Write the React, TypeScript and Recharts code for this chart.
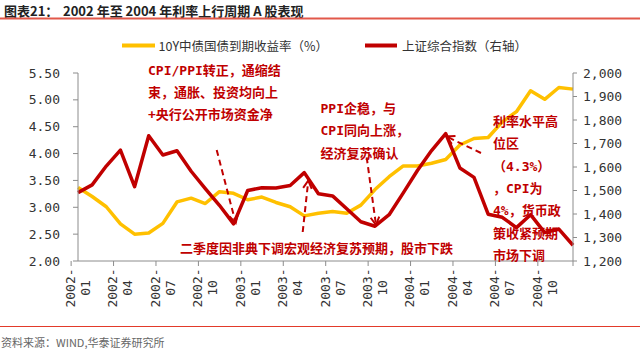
import React from 'react';
import { LineChart, Line, XAxis, YAxis } from 'recharts';

// 2002-01 .. 2004-12, monthly
const months = [
  '2002-01', '2002-02', '2002-03', '2002-04', '2002-05', '2002-06',
  '2002-07', '2002-08', '2002-09', '2002-10', '2002-11', '2002-12',
  '2003-01', '2003-02', '2003-03', '2003-04', '2003-05', '2003-06',
  '2003-07', '2003-08', '2003-09', '2003-10', '2003-11', '2003-12',
  '2004-01', '2004-02', '2004-03', '2004-04', '2004-05', '2004-06',
  '2004-07', '2004-08', '2004-09', '2004-10', '2004-11', '2004-12',
];

// 10Y中债国债到期收益率 (%)
const bondYield = [
  3.37, 3.2, 3.01, 2.69, 2.5, 2.52, 2.7, 3.1, 3.17, 3.07, 3.29, 3.26,
  3.14, 3.19, 3.09, 3.01, 2.84, 2.89, 2.92, 2.89, 3.04, 3.33, 3.57, 3.77,
  3.77, 3.82, 3.89, 4.16, 4.28, 4.3, 4.59, 4.78, 5.17, 5.01, 5.23, 5.2,
];

// 上证综合指数 (右轴)
const shIndex = [
  1491, 1524, 1604, 1672, 1516, 1733, 1651, 1669, 1582, 1508, 1437, 1358,
  1500, 1512, 1511, 1521, 1576, 1486, 1477, 1422, 1367, 1348, 1397, 1490,
  1585, 1670, 1742, 1596, 1556, 1399, 1386, 1342, 1397, 1321, 1336, 1267,
];

const leftTicks = [2, 2.5, 3, 3.5, 4, 4.5, 5, 5.5];
const rightTicks = [1200, 1300, 1400, 1500, 1600, 1700, 1800, 1900, 2000];

const data = months.map((m, i) => ({ month: m, yield: bondYield[i], index: shIndex[i] }));

const PLOT_L = 78;
const PLOT_R = 573;
const PLOT_B = 261;
const STEP = (PLOT_R - PLOT_L) / months.length;
const RED = '#C00000';
const GOLD = '#FFC000';
const AXIS = '#8c8c8c';
const MONO = '"DejaVu Sans Mono", monospace';
const CJK = '"Noto Sans CJK SC", sans-serif';
const NOTE_FONT = '"DejaVu Sans Mono", "Noto Sans CJK SC", sans-serif';

function MonthTick(props: any) {
  const { x, payload } = props;
  const [yr, mo] = String(payload.value).split('-');
  const bx = x - STEP / 2;
  const cy = 288;
  const isLast = payload.value === months[33];
  return (
    <g>
      <line x1={bx} x2={bx} y1={PLOT_B} y2={PLOT_B + 5} stroke={AXIS} />
      {isLast && <line x1={PLOT_R} x2={PLOT_R} y1={PLOT_B} y2={PLOT_B + 5} stroke={AXIS} />}
      <text
        x={x - 7.5}
        y={cy}
        transform={`rotate(-90 ${x - 7.5} ${cy})`}
        textAnchor="middle"
        dominantBaseline="central"
        fontSize={13}
        fontFamily={MONO}
        fill="#333"
      >
        {yr}-
      </text>
      <text
        x={x + 7.5}
        y={cy}
        transform={`rotate(-90 ${x + 7.5} ${cy})`}
        textAnchor="middle"
        dominantBaseline="central"
        fontSize={13}
        fontFamily={MONO}
        fill="#333"
      >
        {mo}
      </text>
    </g>
  );
}

function Arrow({ x1, y1, x2, y2 }: { x1: number; y1: number; y2: number; x2: number }) {
  const a = Math.atan2(y2 - y1, x2 - x1);
  const h = 9;
  const s = 0.5;
  const p1 = [x2 - h * Math.cos(a - s), y2 - h * Math.sin(a - s)];
  const p2 = [x2 - h * Math.cos(a + s), y2 - h * Math.sin(a + s)];
  return (
    <g stroke={RED} strokeWidth={2} fill="none">
      <line x1={x1} y1={y1} x2={x2} y2={y2} strokeDasharray="6 4" />
      <polyline points={`${p1[0]},${p1[1]} ${x2},${y2} ${p2[0]},${p2[1]}`} />
    </g>
  );
}

function Note({ x, y, lines }: { x: number; y: number; lines: string[] }) {
  return (
    <g>
      {lines.map((t, i) => (
        <text
          key={i}
          x={x}
          y={y + i * 22.3}
          dominantBaseline="central"
          fontSize={13}
          fontWeight="bold"
          fontFamily={NOTE_FONT}
          fill={RED}
        >
          {t}
        </text>
      ))}
    </g>
  );
}

export default function App() {
  return (
    <div style={{ position: 'absolute', left: 0, top: 0, width: 640, height: 351, background: '#fff' }}>
      <LineChart width={640} height={351} data={data} margin={{ top: 73, right: 0, bottom: 0, left: 0 }}>
        <XAxis
          dataKey="month"
          interval={2}
          height={90}
          tickLine={false}
          axisLine={{ stroke: AXIS }}
          tick={<MonthTick />}
        />
        <YAxis
          yAxisId="left"
          orientation="left"
          width={78}
          domain={[2, 5.5]}
          ticks={leftTicks}
          tickFormatter={(v: number) => v.toFixed(2)}
          tickSize={5}
          tickMargin={13}
          axisLine={{ stroke: AXIS }}
          tickLine={{ stroke: AXIS }}
          tick={{ fill: '#333', fontSize: 13, fontFamily: MONO }}
        />
        <YAxis
          yAxisId="right"
          orientation="right"
          width={67}
          domain={[1200, 2000]}
          ticks={rightTicks}
          tickFormatter={(v: number) => v.toLocaleString('en-US')}
          tickSize={4}
          tickMargin={6}
          axisLine={{ stroke: AXIS }}
          tickLine={{ stroke: AXIS }}
          tick={{ fill: '#333', fontSize: 13, fontFamily: MONO }}
        />
        <Line
          yAxisId="left"
          dataKey="yield"
          stroke={GOLD}
          strokeWidth={3.5}
          strokeLinejoin="round"
          dot={false}
          isAnimationActive={false}
        />
        <Line
          yAxisId="right"
          dataKey="index"
          stroke={RED}
          strokeWidth={3.5}
          strokeLinejoin="round"
          dot={false}
          isAnimationActive={false}
        />
      </LineChart>

      <svg
        width={640}
        height={351}
        style={{ position: 'absolute', left: 0, top: 0, pointerEvents: 'none' }}
      >
        {/* title */}
        <text x={4} y={10} dominantBaseline="central" fontSize={13} fontWeight="bold" fontFamily={CJK} fill="#222">
          图表21：
        </text>
        <text x={63} y={10} dominantBaseline="central" fontSize={13} fontWeight="bold" fontFamily={CJK} fill="#222">
          2002 年至 2004 年利率上行周期 A 股表现
        </text>
        <line x1={0} x2={640} y1={18.5} y2={18.5} stroke="#E2584A" strokeWidth={2} />

        {/* legend */}
        <line x1={122} x2={155} y1={45.5} y2={45.5} stroke={GOLD} strokeWidth={4} />
        <text x={158.5} y={45.5} dominantBaseline="central" fontSize={12.5} fontFamily={CJK} fill="#333">
          10Y中债国债到期收益率（%）
        </text>
        <line x1={365} x2={397} y1={45.5} y2={45.5} stroke={RED} strokeWidth={4} />
        <text x={402} y={45.5} dominantBaseline="central" fontSize={12.5} fontFamily={CJK} fill="#333">
          上证综合指数（右轴）
        </text>

        {/* annotations */}
        <Note x={148} y={70} lines={['CPI/PPI转正，通缩结', '束，通胀、投资均向上', '+央行公开市场资金净']} />
        <Note x={320.5} y={108.5} lines={['PPI企稳，与', 'CPI同向上涨，', '经济复苏确认']} />
        <Note
          x={493}
          y={121.5}
          lines={['利率水平高', '位区', '（4.3%）', '，CPI为', '4%，货币政', '策收紧预期', '市场下调']}
        />
        <Note x={180} y={248.3} lines={['二季度因非典下调宏观经济复苏预期，股市下跌']} />

        <Arrow x1={216.7} y1={150} x2={235.7} y2={223} />
        <Arrow x1={302.7} y1={232} x2={308.3} y2={180.5} />
        <Arrow x1={366.7} y1={157.3} x2={376} y2={225} />
        <Arrow x1={481} y1={153} x2={446.5} y2={136.5} />

        {/* footer */}
        <line x1={0} x2={640} y1={326.5} y2={326.5} stroke="#E23A2A" strokeWidth={1.2} />
        <text x={1} y={342} dominantBaseline="central" fontSize={11} fontFamily={CJK} fill="#666">
          资料来源：WIND,华泰证券研究所
        </text>
      </svg>
    </div>
  );
}
